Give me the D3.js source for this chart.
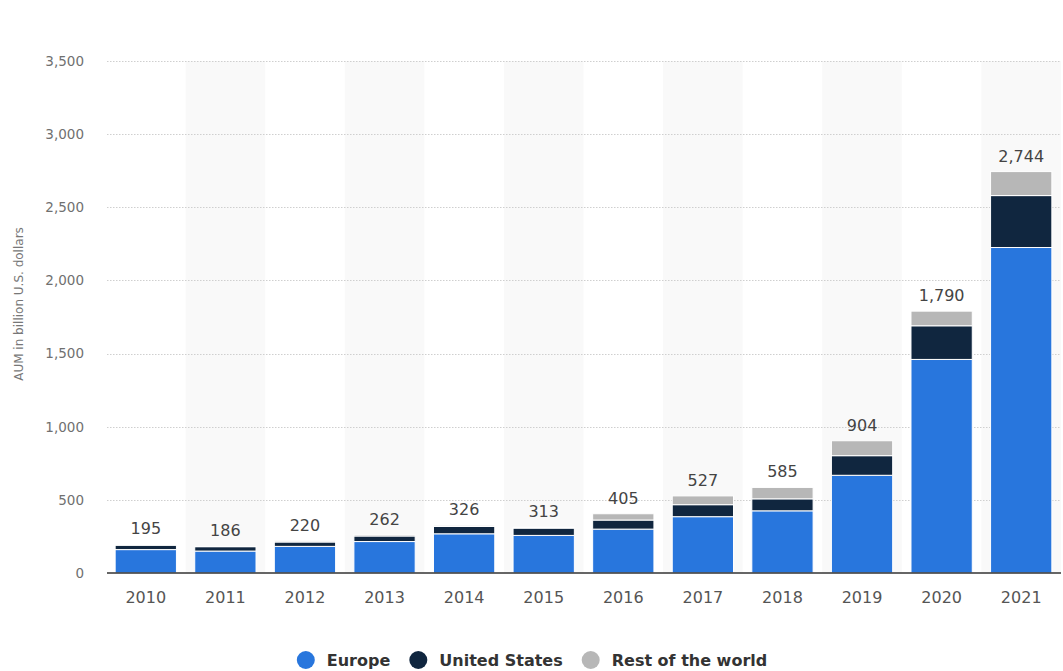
<!DOCTYPE html>
<html>
<head>
<meta charset="utf-8">
<script src="https://cdn.jsdelivr.net/npm/d3@7"></script>
<style>
  html, body { margin: 0; padding: 0; background: #fff; }
  svg { display: block; font-family: "DejaVu Sans", Verdana, sans-serif; }
</style>
</head>
<body>
<svg id="chart" width="1063" height="671"></svg>
<script>
const years = ["2010","2011","2012","2013","2014","2015","2016","2017","2018","2019","2020","2021"];
const europe = [160, 150, 182, 215, 268, 257, 300, 385, 425, 668, 1460, 2225];
const unitedStates = [30, 30, 30, 38, 50, 50, 62, 82, 82, 134, 230, 355];
const restOfWorld = [5, 6, 8, 9, 8, 6, 43, 60, 78, 102, 100, 164];
const totals = [195, 186, 220, 262, 326, 313, 405, 527, 585, 904, 1790, 2744];
const seriesNames = ["Europe", "United States", "Rest of the world"];
const seriesColors = ["#2876dd", "#10263f", "#b7b7b7"];
const yTicks = [0, 500, 1000, 1500, 2000, 2500, 3000, 3500];
const yTitle = "AUM in billion U.S. dollars";

(function () {
const svg = d3.select("#chart");
const pL = 106, pR = 1061, pT = 61, pB = 573;

const x = d3.scaleBand().domain(years).range([pL, pR]).paddingInner(0.23).paddingOuter(0.115);
const xBand = d3.scaleBand().domain(years).range([pL, pR]).padding(0);
const y = d3.scaleLinear().domain([0, 3500]).range([pB, pT]);

// alternating column shading
svg.append("g").selectAll("rect")
  .data(years.filter((d, i) => i % 2 === 1))
  .join("rect")
  .attr("x", d => xBand(d))
  .attr("width", xBand.bandwidth())
  .attr("y", pT)
  .attr("height", pB - pT)
  .attr("fill", "#f9f9f9");

// gridlines
svg.append("g").selectAll("line")
  .data(yTicks.filter(d => d > 0))
  .join("line")
  .attr("x1", pL + 1).attr("x2", pR)
  .attr("y1", d => Math.round(y(d)) + 0.5).attr("y2", d => Math.round(y(d)) + 0.5)
  .attr("stroke", "#cfcfcf")
  .attr("stroke-width", 1)
  .attr("stroke-dasharray", "1.5,1.5");

// y axis labels
const yAxis = d3.axisLeft(y).tickValues(yTicks).tickSize(0).tickPadding(0)
  .tickFormat(d3.format(","));
const gy = svg.append("g").attr("transform", `translate(84,0)`).call(yAxis);
gy.select(".domain").remove();
gy.selectAll("text").attr("fill", "#707070").attr("font-size", "13.5px")
  .attr("font-family", "DejaVu Sans, sans-serif");

// y title
svg.append("text")
  .attr("transform", `translate(23,${(pT + pB) / 2 - 13}) rotate(-90)`)
  .attr("text-anchor", "middle")
  .attr("fill", "#777")
  .attr("font-size", "12px")
  .text(yTitle);

// stacked data
const table = years.map((yr, i) => ({ year: yr, "Europe": europe[i], "United States": unitedStates[i], "Rest of the world": restOfWorld[i] }));
const stack = d3.stack().keys(seriesNames)(table);

svg.append("g").selectAll("g")
  .data(stack)
  .join("g")
  .attr("fill", (d, i) => seriesColors[i])
  .selectAll("rect")
  .data(d => d)
  .join("rect")
  .attr("x", d => x(d.data.year))
  .attr("width", x.bandwidth())
  .attr("y", d => y(d[1]))
  .attr("height", d => Math.max(0, y(d[0]) - y(d[1])))
  .attr("stroke", "#ffffff")
  .attr("stroke-width", 1);

// x axis
const xAxis = d3.axisBottom(xBand).tickSize(0).tickPadding(19);
const gx = svg.append("g").attr("transform", `translate(0,${pB})`).call(xAxis);
gx.select(".domain").attr("stroke", "#333").attr("stroke-width", 1.5).attr("d", `M${pL + 1},0H${pR}`);
gx.selectAll("text").attr("fill", "#555").attr("font-size", "16px")
  .attr("font-family", "DejaVu Sans, sans-serif");

// total labels
svg.append("g").selectAll("text")
  .data(years)
  .join("text")
  .attr("x", d => x(d) + x.bandwidth() / 2)
  .attr("y", (d, i) => y(europe[i] + unitedStates[i] + restOfWorld[i]) - 10)
  .attr("text-anchor", "middle")
  .attr("fill", "#444")
  .attr("font-size", "16px")
  .text((d, i) => d3.format(",")(totals[i]));

// legend
const legend = svg.append("g");
let cx = 0;
seriesNames.forEach((name, i) => {
  const g = legend.append("g");
  g.append("circle").attr("cx", cx + 9).attr("cy", 660).attr("r", 9).attr("fill", seriesColors[i]);
  const t = g.append("text").attr("x", cx + 30).attr("y", 666)
    .attr("font-size", "16px").attr("font-weight", "bold").attr("fill", "#333")
    .text(name);
  const w = t.node().getComputedTextLength();
  cx += 30 + w + 19;
});
const totalW = cx - 19;
legend.attr("transform", `translate(${532 - totalW / 2},0)`);
})();
</script>
</body>
</html>
